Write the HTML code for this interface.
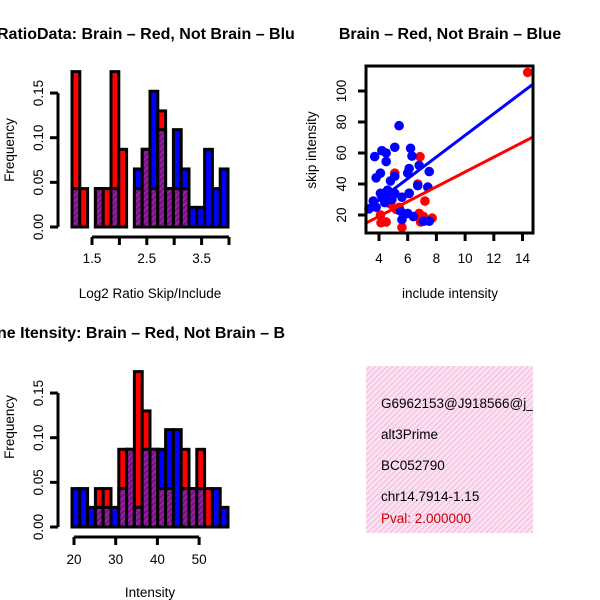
<!DOCTYPE html>
<html><head><meta charset="utf-8"><style>
body{margin:0;background:#fff}
svg{display:block;font-family:"Liberation Sans",sans-serif}
</style></head><body>
<svg id="c" width="600" height="600" viewBox="0 0 600 600">
<defs>
<pattern id="hatch" width="4" height="4" patternUnits="userSpaceOnUse" patternTransform="rotate(45)">
<rect width="4" height="4" fill="#9a1fa0"/><rect width="2" height="4" fill="#6f1580"/></pattern>
<pattern id="pink" width="4" height="4" patternUnits="userSpaceOnUse" patternTransform="rotate(45)">
<rect width="4" height="4" fill="#fbe3f3"/><rect width="1.2" height="4" fill="#f2bde0"/></pattern>
<clipPath id="clipInfo"><rect x="366" y="366" width="167" height="167"/></clipPath>
</defs>
<text x="-3" y="39" font-size="16" font-weight="bold">RatioData: Brain – Red, Not Brain – Blu</text>
<text x="450" y="39" font-size="16" font-weight="bold" text-anchor="middle">Brain – Red, Not Brain – Blue</text>
<text x="-3" y="338" font-size="16" font-weight="bold">ne Itensity: Brain – Red, Not Brain – B</text>
<text x="150" y="298" font-size="13.5" text-anchor="middle">Log2 Ratio Skip/Include</text>
<text x="450" y="298" font-size="13.5" text-anchor="middle">include intensity</text>
<text x="150" y="597" font-size="13.5" text-anchor="middle">Intensity</text>
<text transform="translate(14,150) rotate(-90)" font-size="13.5" text-anchor="middle">Frequency</text>
<text transform="translate(14,427) rotate(-90)" font-size="13.5" text-anchor="middle">Frequency</text>
<text transform="translate(316,150) rotate(-90)" font-size="13.5" text-anchor="middle">skip intensity</text>
<g>
<rect x="366" y="366" width="167" height="167" fill="url(#pink)"/>
<g clip-path="url(#clipInfo)" font-size="13.5">
<text x="381" y="408">G6962153@J918566@j_</text>
<text x="381" y="439">alt3Prime</text>
<text x="381" y="470">BC052790</text>
<text x="381" y="501">chr14.7914-1.15</text>
<text x="381" y="523" fill="#cc0000">Pval: 2.000000</text>
</g></g>
</svg>
<script>
// Ratio histogram data
const ratioRed  = [0.174,0.043,0,0.043,0.043,0.174,0.087,0,0.043,0.087,0.043,0.130,0.043,0.043,0.043,0,0,0,0,0];
const ratioBlue = [0.043,0,0,0.043,0,0.043,0,0,0.065,0.087,0.152,0.109,0.043,0.109,0.065,0.022,0.022,0.087,0.043,0.065];
const ratioTicks = [1.5,2.0,2.5,3.0,3.5,4.0];
const ratioTickLabels = ["1.5","","2.5","","3.5",""];
// Intensity histogram data
const intRed  = [0,0,0,0.043,0.043,0,0.087,0.087,0.174,0.130,0.087,0.043,0.043,0,0.087,0.043,0.087,0.043,0,0];
const intBlue = [0.043,0.043,0.022,0.022,0.022,0.022,0.043,0.087,0.022,0.087,0.087,0.087,0.109,0.109,0.043,0.043,0.043,0,0.043,0.022];
const intTicks = [20,30,40,50];
const freqTicks = [0,0.05,0.10,0.15];
const freqLabels = ["0.00","0.05","0.10","0.15"];
// Scatter data
const redX = [14.36,6.86,4.14,4.5,5.6,7.2,7.7,6.9,7.1,6.8,5.1,6.7,6.1,5.2,4.8,4.1,5.4];
const redY = [112,57.6,15,15.5,12,29,18,15.5,19,21,47,40,34,23.6,27,20,25];
const blueX = [5.4,5.1,6.2,4.2,4.5,3.7,6.3,4.5,6.8,7.5,6.1,6.0,4.1,3.8,5.1,4.8,6.7,7.4,4.1,4.6,5.1,6.1,5.6,3.6,3.8,4.4,4.9,5.5,6.0,5.6,6.4,7.1,7.5,3.3,4.2,4.8];
const blueY = [77.6,63.7,63,61.5,60,57.7,58,54.5,52,48,50,47,47,44,45,42,39,38,34,36,34,34,31.5,29,25,28,30,22.5,21,17,19,16,16,24,32,32];
const blueFit = [1.6,6.98];
const redFit = [0.06,4.77];
const scatterXTicks = [4,6,8,10,12,14];
const scatterYTicks = [20,40,60,80,100];

const svg = document.getElementById('c');
const NS = 'http://www.w3.org/2000/svg';
function mk(tag, attrs, parent){const e=document.createElementNS(NS,tag);for(const k in attrs)e.setAttribute(k,attrs[k]);(parent||svg).appendChild(e);return e;}
const FS = 13.5;
function hist(name, red, blue, x0, binW, base, scaleY, xs, ticks, labels, tickY, axisX){
  const g = mk('g',{});
  
  
  const y = v => base - v*scaleY;
  for(let i=0;i<red.length;i++){
    const bx = x0 + i*binW;
    const r = red[i], b = blue[i], m = Math.min(r,b), mx = Math.max(r,b);
    if(mx<=0) continue;
    const col = r>=b ? '#ff0000' : '#0000ff';
    const bar = mk('rect',{x:bx,y:y(mx),width:binW,height:mx*scaleY,fill:col,stroke:'#000','stroke-width':3},g);
    
    
    if(m>0){
      const ov = mk('rect',{x:bx,y:y(m),width:binW,height:m*scaleY,fill:'url(#hatch)',stroke:'#000','stroke-width':3},g);
      
      
    }
  }
  const ya = mk('g',{},g);
  
  
  mk('line',{x1:axisX,x2:axisX,y1:y(0),y2:y(0.15),stroke:'#000','stroke-width':3},ya);
  freqTicks.forEach((t,i)=>{
    mk('line',{x1:axisX-8,x2:axisX,y1:y(t),y2:y(t),stroke:'#000','stroke-width':3},ya);
    const tx = mk('text',{transform:`translate(${axisX-15},${y(t)}) rotate(-90)`,'font-size':FS,'text-anchor':'middle'},ya);
    tx.textContent = freqLabels[i];
  });
  const xa = mk('g',{},g);
  
  
  const ax = base+10;
  mk('line',{x1:xs(ticks[0]),x2:xs(ticks[ticks.length-1]),y1:ax,y2:ax,stroke:'#000','stroke-width':3},xa);
  ticks.forEach((t,i)=>{
    mk('line',{x1:xs(t),x2:xs(t),y1:ax,y2:ax+8,stroke:'#000','stroke-width':3},xa);
    const tx = mk('text',{x:xs(t),y:tickY,'font-size':FS,'text-anchor':'middle'},xa);
    tx.textContent = labels[i];
  });
}
const rxs = v => 92 + (v-1.5)*54.8;
hist('ratio-histogram', ratioRed, ratioBlue, 72, 7.8, 227, 893, rxs, ratioTicks, ratioTickLabels, 263, 58);
const ixs = v => 74 + (v-20)*4.17;
hist('intensity-histogram', intRed, intBlue, 72, 7.8, 527, 893, ixs, intTicks, intTicks.map(String), 564, 58);

const sx = v => 379 + (v-4)*14.35;
const sy = v => 215 - (v-20)*1.55;
const sg = mk('g',{});


redX.forEach((x,i)=>{
  const c = mk('circle',{cx:sx(x),cy:sy(redY[i]),r:4.8,fill:'#ff0000'},sg);
  
  
});
blueX.forEach((x,i)=>{
  const c = mk('circle',{cx:sx(x),cy:sy(blueY[i]),r:4.8,fill:'#0000ff'},sg);
  
  
});
const xa0 = 3.09, xa1 = 14.73;
const bl = mk('line',{x1:sx(xa0),y1:sy(blueFit[0]+blueFit[1]*xa0),x2:sx(xa1),y2:sy(blueFit[0]+blueFit[1]*xa1),stroke:'#0000ff','stroke-width':3},sg);


const rl = mk('line',{x1:sx(xa0),y1:sy(redFit[0]+redFit[1]*xa0),x2:sx(xa1),y2:sy(redFit[0]+redFit[1]*xa1),stroke:'#ff0000','stroke-width':3},sg);


const box = mk('rect',{x:366,y:66,width:167,height:167,fill:'none',stroke:'#000','stroke-width':3},sg);


scatterXTicks.forEach(t=>{
  mk('line',{x1:sx(t),x2:sx(t),y1:233,y2:241,stroke:'#000','stroke-width':3},sg);
  const tx = mk('text',{x:sx(t),y:263,'font-size':FS,'text-anchor':'middle'},sg);
  
  
  tx.textContent = t;
});
scatterYTicks.forEach(t=>{
  mk('line',{x1:358,x2:366,y1:sy(t),y2:sy(t),stroke:'#000','stroke-width':3},sg);
  const tx = mk('text',{transform:`translate(346,${sy(t)}) rotate(-90)`,'font-size':FS,'text-anchor':'middle'},sg);
  
  
  tx.textContent = t;
});
</script>
</body></html>
